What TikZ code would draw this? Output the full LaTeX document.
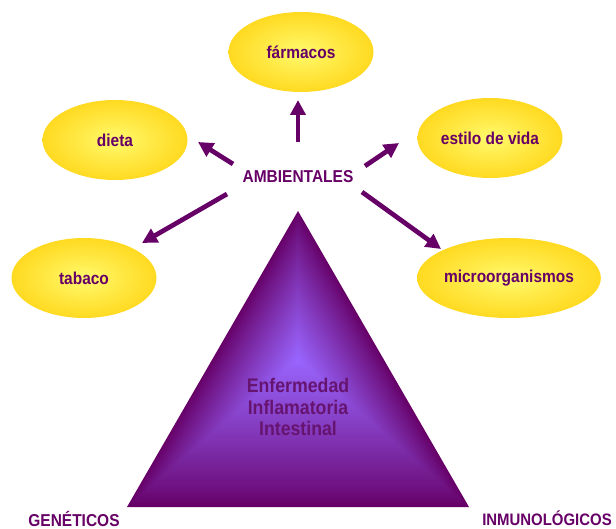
\documentclass[tikz,border=0pt]{standalone}
\usepackage{fontspec}
\setmainfont{Liberation Sans}[FakeStretch=0.9]
\usetikzlibrary{shapes.geometric,arrows.meta,calc}
\definecolor{pur}{HTML}{660066}
\definecolor{tlight}{HTML}{9966FF}
\definecolor{tdark}{HTML}{660066}
\definecolor{elin}{HTML}{FFFA6E}
\definecolor{elout}{HTML}{FFCC00}
\definecolor{etext}{HTML}{661470}
\pgfdeclareradialshading{ellshade}{\pgfpoint{0bp}{0bp}}{color(0bp)=(elin); color(12bp)=(elin!65!elout); color(36bp)=(elout); color(50bp)=(elout)}
\tikzset{
  oval/.style={ellipse, shading=ellshade, minimum width=145pt, minimum height=80pt, inner sep=0pt,
    text=pur, font=\bfseries\fontsize{17.2}{20}\selectfont},
  lbl/.style={text=pur, font=\bfseries\fontsize{17.2}{20}\selectfont, inner sep=0pt},
  arr/.style={draw=pur, line width=4.7pt, -{Triangle[length=15pt,width=15pt]}},
}
\begin{document}
\begin{tikzpicture}[x=1pt,y=-1pt]
\useasboundingbox (0,0) rectangle (616,529);
% triangle with path gradient
\coordinate (A) at (298,211);
\coordinate (BL) at (127,507);
\coordinate (BR) at (469,507);
\coordinate (C) at (298,359);
\foreach \i in {0,...,59} {
  \pgfmathsetmacro\t{1-\i/60}
  \pgfmathsetmacro\p{100*(\i/60)^0.85}
  \fill[tlight!\p!tdark] ($(C)!\t!(A)$) -- ($(C)!\t!(BL)$) -- ($(C)!\t!(BR)$) -- cycle;
}
\node[text=etext, font=\bfseries\fontsize{19.7}{21.5}\selectfont, align=center, inner sep=0pt] (eii) at (298,407) {Enfermedad\\Inflamatoria\\Intestinal};
% ellipses
\node[oval] (farm) at (301,52) {fármacos};
\node[oval] (dieta) at (115,140) {dieta};
\node[oval] (estilo) at (490,138) {estilo de vida};
\node[oval] (tabaco) at (84,278) {tabaco};
\node[oval] (micro) at (509,278) {microorganismos};
% labels
\node[lbl] (amb) at (298,177) {AMBIENTALES};
\node[lbl] (gen) at (74,519) {GENÉTICOS};
\node[lbl, font=\bfseries\fontsize{16.6}{20}\selectfont] (inm) at (547,518) {INMUNOLÓGICOS};
% arrow ends
\coordinate (a1) at (298,142); \coordinate (b1) at (298,100);
\coordinate (a2) at (233,164); \coordinate (b2) at (198,142);
\coordinate (a3) at (365,166); \coordinate (b3) at (399,143);
\coordinate (a4) at (227,194); \coordinate (b4) at (142,243);
\coordinate (a5) at (362,192); \coordinate (b5) at (441,249);
\draw[arr] (a1) -- (b1);
\draw[arr] (a2) -- (b2);
\draw[arr] (a3) -- (b3);
\draw[arr] (a4) -- (b4);
\draw[arr] (a5) -- (b5);
\end{tikzpicture}
\end{document}
